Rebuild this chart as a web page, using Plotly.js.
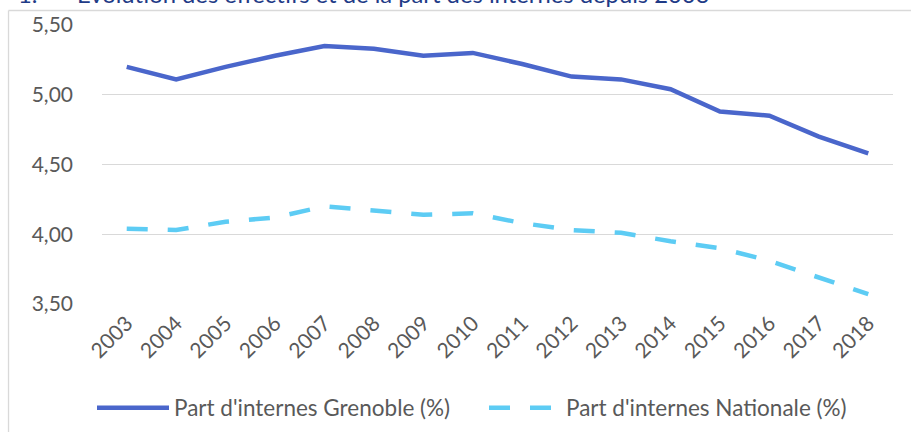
<!DOCTYPE html>
<html>
<head>
<meta charset="utf-8">
<script src="https://cdn.plot.ly/plotly-3.0.1.min.js"></script>
<style>
  html, body { margin: 0; padding: 0; background: #fff; }
  #chart { width: 911px; height: 432px; }
</style>
</head>
<body>
<div id="chart"></div>
<script>
const years = ['2003','2004','2005','2006','2007','2008','2009','2010','2011','2012','2013','2014','2015','2016','2017','2018'];
const grenoble = [5.20, 5.11, 5.20, 5.28, 5.35, 5.33, 5.28, 5.30, 5.22, 5.13, 5.11, 5.04, 4.88, 4.85, 4.70, 4.58];
const nationale = [4.04, 4.03, 4.09, 4.12, 4.20, 4.17, 4.14, 4.15, 4.08, 4.03, 4.01, 3.95, 3.90, 3.81, 3.69, 3.57];
const seriesNames = ["Part d'internes Grenoble (%)", "Part d'internes Nationale (%)"];
const titleNumber = "1.";
const titleText = "\u00C9volution des effectifs et de la part des internes depuis 2003";

const FONT = 'Lato, "Open Sans", sans-serif';
const GREY = '#595959';
const TITLE_BLUE = '#1F3B87';

const traces = [
  {
    x: years, y: grenoble, type: 'scatter', mode: 'lines', name: seriesNames[0],
    legend: 'legend',
    line: { color: '#4A66CB', width: 4.5 }
  },
  {
    x: years, y: nationale, type: 'scatter', mode: 'lines', name: seriesNames[1],
    legend: 'legend2',
    line: { color: '#5DCCF4', width: 4.5, dash: '21px,20px' }
  }
];

const legendCommon = {
  orientation: 'h', yanchor: 'middle', xanchor: 'left', y: (304 - 408) / 279,
  itemwidth: 72,
  font: { family: FONT, size: 22.5, color: GREY },
  bgcolor: 'rgba(0,0,0,0)', borderwidth: 0
};

const layout = {
  width: 911, height: 432,
  margin: { l: 102, r: 18, t: 25, b: 128, autoexpand: false },
  paper_bgcolor: '#fff', plot_bgcolor: '#fff',
  separators: ', ',
  font: { family: FONT, size: 21, color: GREY },
  showlegend: true,
  legend: Object.assign({}, legendCommon, { x: (92 - 102) / 791 }),
  legend2: Object.assign({}, legendCommon, { x: (484 - 102) / 791 }),
  xaxis: {
    type: 'category', range: [-0.5, 15.5], fixedrange: true, automargin: false,
    showgrid: false, zeroline: false, showline: false, ticks: '',
    tickangle: -45, ticklabelstandoff: 2, tickfont: { family: FONT, size: 21, color: GREY }
  },
  yaxis: {
    range: [3.5, 5.5], dtick: 0.5, tick0: 3.5, tickformat: '.2f', fixedrange: true, automargin: false,
    showgrid: true, gridcolor: '#D9D9D9', gridwidth: 1.3, zeroline: false, showline: false,
    ticks: '', ticklabelstandoff: 28, tickfont: { family: FONT, size: 21, color: GREY }
  },
  shapes: [
    { type: 'line', xref: 'paper', yref: 'paper', x0: -0.1182, x1: 1.05, y0: (304 - 10.5) / 279, y1: (304 - 10.5) / 279,
      line: { color: '#D9D9D9', width: 1.3 } },
    { type: 'line', xref: 'paper', yref: 'paper', x0: -0.1182, x1: -0.1182, y0: (304 - 10.5) / 279, y1: -0.5,
      line: { color: '#D9D9D9', width: 1.3 } }
  ],
  annotations: [
    { text: titleNumber, xref: 'paper', yref: 'paper', x: (16 - 102) / 791, y: (304 - 10) / 279,
      xanchor: 'left', yanchor: 'bottom', showarrow: false,
      font: { family: FONT, size: 23.8, color: TITLE_BLUE } },
    { text: titleText, xref: 'paper', yref: 'paper', x: (75 - 102) / 791, y: (304 - 10) / 279,
      xanchor: 'left', yanchor: 'bottom', showarrow: false,
      font: { family: FONT, size: 23.8, color: TITLE_BLUE } }
  ]
};

Plotly.newPlot('chart', traces, layout, { staticPlot: true, displayModeBar: false });
</script>
</body>
</html>
